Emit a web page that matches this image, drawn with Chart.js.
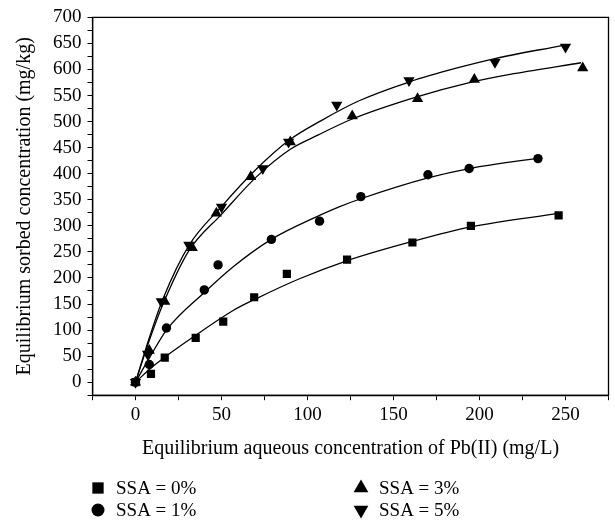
<!DOCTYPE html>
<html>
<head>
<meta charset="utf-8">
<script src="https://cdn.jsdelivr.net/npm/chart.js@4.4.0/dist/chart.umd.min.js"></script>
<style>
  html, body { margin: 0; padding: 0; background: #fff; }
  #wrap { width: 615px; height: 527px; }
</style>
</head>
<body>
<div id="wrap"><canvas id="isothermChart"></canvas></div>
<script>
// measured points (Ce in mg/L, qe in mg/kg)
const ssaLabels = ["SSA = 0%", "SSA = 1%", "SSA = 3%", "SSA = 5%"];
const ceSSA0 = [0, 9, 17, 35, 51, 69, 88, 123, 161, 195, 246];
const qeSSA0 = [0, 16, 47, 85, 116, 163, 208, 235, 268, 300, 320];
const ceSSA1 = [0, 8, 18, 40, 48, 79, 107, 131, 170, 194, 234];
const qeSSA1 = [0, 34, 104, 177, 225, 274, 309, 356, 398, 410, 429];
const ceSSA3 = [0, 8, 17, 33, 47, 67, 90, 126, 164, 197, 260];
const qeSSA3 = [0, 61, 155, 258, 324, 394, 461, 511, 544, 581, 603];
const ceSSA5 = [0, 7, 15, 31, 50, 74, 89, 117, 159, 209, 250];
const qeSSA5 = [0, 54, 155, 263, 336, 410, 461, 532, 579, 614, 643];

// fitted curves
const fitCe0 = [0, 10, 17, 35, 57, 70, 95, 122, 161, 195, 246];
const fitQe0 = [0, 30, 48, 90, 138, 160, 198, 232, 270, 298, 324];
const fitCe1 = [0, 8, 18, 40, 57, 79, 107, 118, 131, 170, 194, 234];
const fitQe1 = [0, 46, 100, 172, 222, 274, 320, 336, 352, 392, 410, 430];
const fitCe3 = [0, 8, 16, 31, 50, 70, 90, 106, 126, 164, 193, 220, 259];
const fitQe3 = [0, 80, 150, 252, 322, 393, 447, 474, 505, 548, 574, 592, 613];
const fitCe5 = [0, 8, 16, 31, 50, 70, 90, 108, 130, 159, 187, 209, 248];
const fitQe5 = [0, 85, 160, 262, 337, 408, 466, 502, 540, 576, 603, 621, 646];

const pts = (xs, ys) => xs.map((x, i) => ({ x: x, y: ys[i] }));

const serif = '"Liberation Serif", "Times New Roman", serif';

function markerSet(label, xs, ys, style, radius, rotation) {
  return {
    label: label,
    data: pts(xs, ys),
    showLine: false,
    pointStyle: style,
    pointRadius: radius,
    pointHoverRadius: radius,
    pointRotation: rotation || 0,
    backgroundColor: "#000",
    borderColor: "#000",
    borderWidth: 0,
  };
}

function fitSet(xs, ys) {
  return {
    label: "fit",
    data: pts(xs, ys),
    showLine: true,
    pointRadius: 0,
    borderColor: "#000",
    borderWidth: 1.3,
    cubicInterpolationMode: "monotone",
    fill: false,
  };
}

const markers = [
  markerSet(ssaLabels[0], ceSSA0, qeSSA0, "rect", 5.8),
  markerSet(ssaLabels[1], ceSSA1, qeSSA1, "circle", 4.7),
  markerSet(ssaLabels[2], ceSSA3, qeSSA3, "triangle", 6.5),
  markerSet(ssaLabels[3], ceSSA5, qeSSA5, "triangle", 6.5, 180),
];

// legend in two columns under the axis title
const ssaLegend = {
  id: "ssaLegend",
  afterDraw(chart) {
    const ctx = chart.ctx;
    const cols = [98, 361];
    const rows = [488, 510];
    const sizes = { rect: 8, circle: 6.5, triangle: 8.5 };
    ctx.save();
    ctx.fillStyle = "#000";
    ctx.font = "19px " + serif;
    ctx.textBaseline = "middle";
    markers.forEach((ds, i) => {
      const x = cols[Math.floor(i / 2)];
      const y = rows[i % 2];
      Chart.helpers.drawPoint(ctx, {
        pointStyle: ds.pointStyle,
        radius: sizes[ds.pointStyle],
        rotation: ds.pointRotation,
        borderWidth: 0,
      }, x, y);
      ctx.fillText(ds.label, x + 18, y + 1);
    });
    ctx.restore();
  },
};

const frame = {
  id: "frame",
  afterDraw(chart) {
    const a = chart.chartArea;
    const ctx = chart.ctx;
    ctx.save();
    ctx.strokeStyle = "#000";
    ctx.lineWidth = 1.3;
    ctx.strokeRect(a.left, a.top, a.right - a.left, a.bottom - a.top);
    ctx.restore();
  },
};

const ctx = document.getElementById("isothermChart").getContext("2d");

new Chart(ctx, {
  type: "scatter",
  data: {
    datasets: markers.concat([
      fitSet(fitCe0, fitQe0),
      fitSet(fitCe1, fitQe1),
      fitSet(fitCe3, fitQe3),
      fitSet(fitCe5, fitQe5),
    ]),
  },
  options: {
    responsive: true,
    maintainAspectRatio: false,
    animation: false,
    layout: { padding: { top: 16, right: 1, bottom: 66, left: 13 } },
    plugins: {
      legend: { display: false },
      tooltip: { enabled: false },
    },
    scales: {
      x: {
        type: "linear",
        min: -25,
        max: 275,
        ticks: {
          stepSize: 25,
          padding: 3,
          color: "#000",
          font: { family: serif, size: 19 },
          maxRotation: 0,
          autoSkip: false,
          callback: (v) => (v % 50 === 0 ? v : ""),
        },
        grid: { drawOnChartArea: false, tickLength: 5, tickColor: "#000", tickWidth: 1 },
        border: { color: "#000", width: 1.3 },
        title: {
          display: true,
          text: "Equilibrium aqueous concentration of Pb(II) (mg/L)",
          color: "#000",
          font: { family: serif, size: 20 },
          padding: { top: 8, bottom: 0 },
        },
      },
      y: {
        type: "linear",
        min: -25,
        max: 700,
        ticks: {
          stepSize: 25,
          padding: 6,
          color: "#000",
          font: { family: serif, size: 19 },
          autoSkip: false,
          callback: (v) => (v >= 0 && v % 50 === 0 ? v : ""),
        },
        grid: { drawOnChartArea: false, tickLength: 5, tickColor: "#000", tickWidth: 1 },
        border: { color: "#000", width: 1.3 },
        title: {
          display: true,
          text: "Equilibrium sorbed concentration (mg/kg)",
          color: "#000",
          font: { family: serif, size: 20 },
          padding: { top: 0, bottom: 10 },
        },
      },
    },
  },
  plugins: [frame, ssaLegend],
});
</script>
</body>
</html>
